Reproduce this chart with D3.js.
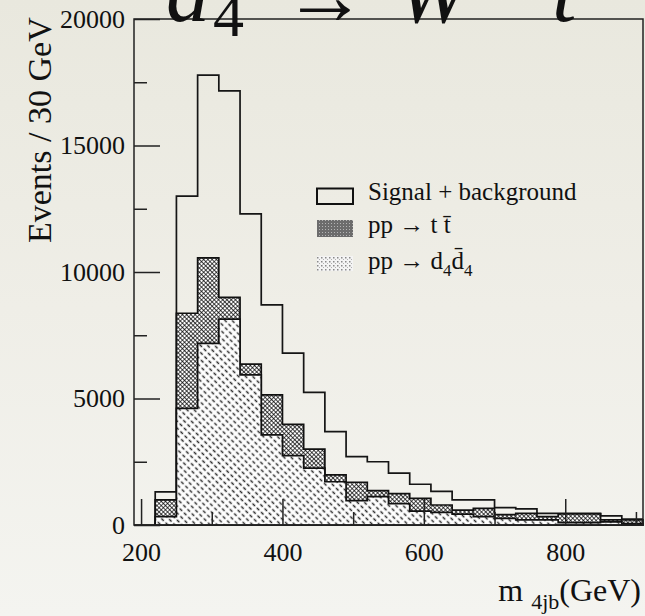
<!DOCTYPE html>
<html>
<head>
<meta charset="utf-8">
<script src="https://cdn.jsdelivr.net/npm/d3@7"></script>
<style>
  html, body { margin: 0; padding: 0; }
  body { width: 645px; height: 616px; overflow: hidden;
         background: linear-gradient(to bottom, #e9e8de 0%, #efeee7 50%, #f4f4f0 100%); }
  svg { display: block; }
  text { font-family: "Liberation Serif", "Times New Roman", serif; fill: #111; }
</style>
</head>
<body>
<svg id="chart" width="645" height="616"></svg>
<script>
// histogram bins, lower edge in GeV (30 GeV wide)
var bin_lows = [190, 220, 250, 280, 310, 340, 370, 400, 430, 460, 490, 520,
                550, 580, 610, 640, 670, 700, 730, 760, 790, 820, 850, 880];
var bin_width = 30;

// events per bin
var signal_plus_bg = [0, 1310, 13000, 17780, 17160, 12300, 8700, 6790, 5240, 3690, 2700, 2500,
                      2050, 1610, 1330, 990, 990, 690, 640, 460, 460, 460, 360, 230];
var bg_d4d4 = [0, 330, 4610, 7180, 8140, 5930, 3560, 2740, 2250, 1710, 960, 1120,
               840, 550, 500, 430, 330, 265, 200, 200, 92, 92, 125, 55];
var bg_ttbar = [0, 660, 3760, 3380, 860, 430, 1580, 1240, 750, 270, 730, 240,
                400, 500, 290, 160, 330, 145, 260, 130, 350, 350, 75, 145];

var y_major_ticks = [0, 5000, 10000, 15000, 20000];
var y_minor_ticks = [2500, 7500, 12500, 17500];
var x_major_ticks = [200, 400, 600, 800];
var x_minor_ticks = [300, 500, 700, 900];

var svg = d3.select('#chart');
var x = d3.scaleLinear().domain([190, 910]).range([134, 643]);
var y = d3.scaleLinear().domain([0, 20000]).range([525, 19]);

// fill patterns
var defs = svg.append('defs');

var xhatch = defs.append('pattern').attr('id', 'xhatch')
  .attr('patternUnits', 'userSpaceOnUse').attr('width', 3).attr('height', 3)
  .attr('patternTransform', 'rotate(45)');
xhatch.append('rect').attr('width', 3).attr('height', 3).attr('fill', '#fff');
xhatch.append('path').attr('d', 'M0,0 L3,0 M0,0 L0,3')
  .attr('stroke', '#000').attr('stroke-width', 1.3);

var dashes = defs.append('pattern').attr('id', 'dashes')
  .attr('patternUnits', 'userSpaceOnUse').attr('width', 5).attr('height', 6)
  .attr('patternTransform', 'rotate(-45)');
dashes.append('rect').attr('width', 5).attr('height', 6).attr('fill', '#fff');
dashes.append('path').attr('d', 'M2.5,0.6 L2.5,4.2')
  .attr('stroke', '#2e2e2e').attr('stroke-width', 1.5);

var leg_tt = defs.append('pattern').attr('id', 'leg_tt')
  .attr('patternUnits', 'userSpaceOnUse').attr('width', 3).attr('height', 3);
leg_tt.append('rect').attr('width', 3).attr('height', 3).attr('fill', '#6c6c6c');
leg_tt.append('rect').attr('x', 1).attr('y', 1).attr('width', 1).attr('height', 1).attr('fill', '#b4b4b4');

var leg_d4 = defs.append('pattern').attr('id', 'leg_d4')
  .attr('patternUnits', 'userSpaceOnUse').attr('width', 4).attr('height', 4);
leg_d4.append('rect').attr('width', 4).attr('height', 4).attr('fill', '#f4f4f4');
leg_d4.append('rect').attr('x', 1).attr('y', 1).attr('width', 1.5).attr('height', 1.5).attr('fill', '#8a8a8a');
leg_d4.append('rect').attr('x', 3).attr('y', 3).attr('width', 1).attr('height', 1).attr('fill', '#b0b0b0');

function step_points(values) {
  var pts = bin_lows.map(function (lo, i) { return { x: lo, v: values[i] }; });
  pts.push({ x: bin_lows[bin_lows.length - 1] + bin_width, v: values[values.length - 1] });
  return pts;
}

var stacked_top = bg_d4d4.map(function (v, i) { return v + bg_ttbar[i]; });

var area = d3.area()
  .x(function (d) { return x(d.x); })
  .y0(y(0))
  .y1(function (d) { return y(d.v); })
  .curve(d3.curveStepAfter);

var line = d3.line()
  .x(function (d) { return x(d.x); })
  .y(function (d) { return y(d.v); })
  .curve(d3.curveStepAfter);

// signal + background outline
svg.append('path').attr('d', line(step_points(signal_plus_bg)))
  .attr('fill', 'none').attr('stroke', '#151515').attr('stroke-width', 1.7);

// backgrounds, drawn stacked (ttbar on top of d4 d4bar)
svg.append('path').attr('d', area(step_points(stacked_top).slice(1)))
  .attr('fill', 'url(#xhatch)').attr('stroke', '#111').attr('stroke-width', 1.7);
svg.append('path').attr('d', area(step_points(bg_d4d4).slice(1)))
  .attr('fill', 'url(#dashes)').attr('stroke', '#111').attr('stroke-width', 1.7);

// frame
svg.append('rect').attr('x', x(190)).attr('y', y(20000))
  .attr('width', x(910) - x(190)).attr('height', y(0) - y(20000))
  .attr('fill', 'none').attr('stroke', '#222').attr('stroke-width', 1.5);

// axes
function style_axis(g, size) {
  g.select('.domain').remove();
  g.selectAll('line').attr('stroke', '#222').attr('stroke-width', 1.5);
  g.selectAll('text').style('font-size', size + 'px')
    .style('font-family', '"Liberation Serif", serif').attr('fill', '#111');
  g.attr('font-family', null).attr('font-size', null);
}

svg.append('g').attr('transform', 'translate(' + x(190) + ',0)')
  .call(d3.axisLeft(y).tickValues(y_minor_ticks).tickSizeInner(-13).tickSizeOuter(0).tickFormat(''))
  .call(style_axis, 26);
svg.append('g').attr('transform', 'translate(' + x(190) + ',0)')
  .call(d3.axisLeft(y).tickValues(y_major_ticks).tickSizeInner(-26).tickSizeOuter(0)
    .tickPadding(9).tickFormat(d3.format('d')))
  .call(style_axis, 26);

svg.append('g').attr('transform', 'translate(0,' + y(0) + ')')
  .call(d3.axisBottom(x).tickValues(x_minor_ticks).tickSizeInner(-13).tickSizeOuter(0).tickFormat(''))
  .call(style_axis, 26);
svg.append('g').attr('transform', 'translate(0,' + y(0) + ')')
  .call(d3.axisBottom(x).tickValues(x_major_ticks).tickSizeInner(-26).tickSizeOuter(0)
    .tickPadding(18).tickFormat(d3.format('d')))
  .call(style_axis, 26);

// axis titles
svg.append('text')
  .attr('transform', 'translate(51,243) rotate(-90)')
  .style('font-size', '34px')
  .text('Events / 30 GeV');

var xt = svg.append('text').attr('x', 641).attr('y', 601)
  .attr('text-anchor', 'end').style('font-size', '32px');
xt.append('tspan').text('m ');
xt.append('tspan').attr('dy', 8).style('font-size', '22px').text('4jb');
xt.append('tspan').attr('dy', -8).text('(GeV)');

// title (cut off at the top, as in the original figure)
svg.append('text').attr('x', 166).attr('y', 21).style('font-style', 'italic').style('font-size', '88px').text('d');
svg.append('text').attr('x', 213).attr('y', 36).style('font-size', '62px').text('4');
svg.append('text').attr('x', 283).attr('y', 24).style('font-size', '84px').text('→');
svg.append('text').attr('x', 396).attr('y', 22).style('font-style', 'italic').style('font-size', '88px').text('W');
svg.append('text').attr('x', 478).attr('y', -22).style('font-size', '62px').text('−');
svg.append('text').attr('x', 552).attr('y', 21).style('font-style', 'italic').style('font-size', '88px').text('t');

// legend
var leg = svg.append('g');
leg.append('rect').attr('x', 317).attr('y', 188.5).attr('width', 36).attr('height', 15.5)
  .attr('fill', 'none').attr('stroke', '#111').attr('stroke-width', 2);
leg.append('rect').attr('x', 317).attr('y', 220).attr('width', 36).attr('height', 17)
  .attr('fill', 'url(#leg_tt)');
leg.append('rect').attr('x', 317).attr('y', 256).attr('width', 36).attr('height', 15)
  .attr('fill', 'url(#leg_d4)');

leg.append('text').attr('x', 368).attr('y', 200).style('font-size', '25px').text('Signal + background');
leg.append('text').attr('x', 368).attr('y', 233).style('font-size', '25px').text('pp \u2192 t t\u0304');
var l3 = leg.append('text').attr('x', 368).attr('y', 269).style('font-size', '25px');
l3.append('tspan').text('pp \u2192 d');
l3.append('tspan').attr('dy', 7).style('font-size', '17px').text('4');
l3.append('tspan').attr('dy', -7).text('d\u0304');
l3.append('tspan').attr('dy', 7).style('font-size', '17px').text('4');
</script>
</body>
</html>
